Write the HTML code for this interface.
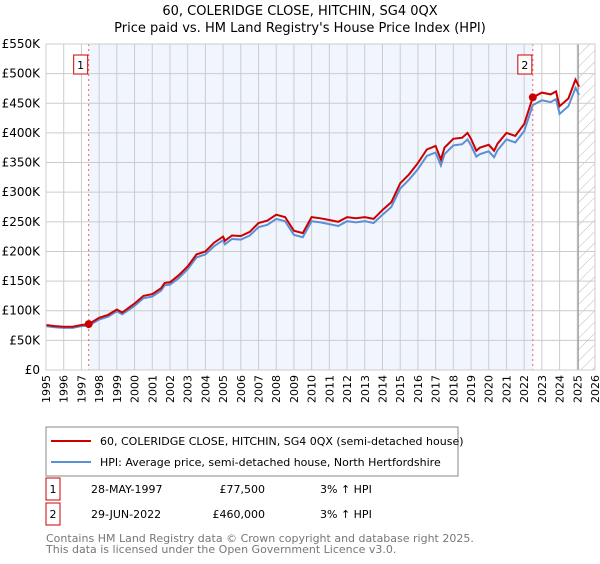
<!DOCTYPE html>
<html><head><meta charset="utf-8"><style>
body{margin:0;background:#fff;font-family:"DejaVu Sans","Liberation Sans",sans-serif;}
svg text{font-family:"DejaVu Sans","Liberation Sans",sans-serif;}
</style></head><body>
<svg id="c" width="600" height="560" xmlns="http://www.w3.org/2000/svg">
<defs><pattern id="h" width="8" height="8" patternUnits="userSpaceOnUse" patternTransform="rotate(45)"><line x1="0" y1="0" x2="0" y2="8" stroke="#bbb" stroke-width="1"/></pattern></defs>
<text x="300" y="15" text-anchor="middle" font-size="13">60, COLERIDGE CLOSE, HITCHIN, SG4 0QX</text>
<text x="300" y="32" text-anchor="middle" font-size="13">Price paid vs. HM Land Registry's House Price Index (HPI)</text>
<g id="plot"></g>
<g>
<rect x="46" y="427" width="412" height="49" fill="#fff" stroke="#888"/>
<line x1="51" y1="441" x2="91" y2="441" stroke="#cc0000" stroke-width="2"/>
<text x="100" y="445" font-size="11">60, COLERIDGE CLOSE, HITCHIN, SG4 0QX (semi-detached house)</text>
<line x1="51" y1="462" x2="91" y2="462" stroke="#5b8fd6" stroke-width="2"/>
<text x="100" y="466" font-size="11">HPI: Average price, semi-detached house, North Hertfordshire</text>
</g>
<g>
<rect x="46" y="478" width="14" height="22" fill="#fff" stroke="#cc0000"/>
<text x="53" y="493" font-size="11" text-anchor="middle">1</text>
<text x="91" y="493" font-size="11">28-MAY-1997</text>
<text x="265" y="493" font-size="11" text-anchor="end">£77,500</text>
<text x="320" y="493" font-size="11">3% ↑ HPI</text>
<rect x="46" y="503" width="14" height="22" fill="#fff" stroke="#cc0000"/>
<text x="53" y="518" font-size="11" text-anchor="middle">2</text>
<text x="91" y="518" font-size="11">29-JUN-2022</text>
<text x="265" y="518" font-size="11" text-anchor="end">£460,000</text>
<text x="320" y="518" font-size="11">3% ↑ HPI</text>
</g>
<text x="46" y="542" font-size="11" fill="#777">Contains HM Land Registry data © Crown copyright and database right 2025.</text>
<text x="46" y="553" font-size="11" fill="#777">This data is licensed under the Open Government Licence v3.0.</text>
</svg>
<script>
const years=[1995,1995.5,1996,1996.5,1997,1997.41,1998,1998.5,1999,1999.3,2000,2000.5,2001,2001.5,2001.7,2002,2002.5,2003,2003.5,2004,2004.5,2005,2005.1,2005.5,2006,2006.5,2007,2007.5,2008,2008.5,2009,2009.5,2010,2010.5,2011,2011.5,2012,2012.5,2013,2013.5,2014,2014.5,2015,2015.5,2016,2016.5,2017,2017.3,2017.5,2018,2018.5,2018.8,2019,2019.3,2019.5,2020,2020.3,2020.5,2021,2021.5,2022,2022.49,2023,2023.5,2023.8,2024,2024.5,2024.9,2025.1];
const priceSeries=[76000,74000,73000,73000,76000,77500,88000,93000,102000,97000,112000,125000,128000,138000,147000,148000,160000,175000,195000,200000,215000,225000,218000,227000,226000,233000,248000,252000,262000,258000,235000,231000,258000,256000,253000,250000,258000,256000,258000,255000,270000,283000,315000,330000,349000,372000,378000,355000,375000,390000,392000,400000,390000,370000,375000,380000,370000,382000,400000,395000,415000,460000,468000,465000,470000,445000,458000,490000,478000];
const hpiSeries=[74000,72000,71000,71000,74000,75000,85000,90000,99000,94000,108000,121000,124000,134000,143000,144000,155000,170000,190000,195000,209000,219000,212000,221000,220000,227000,241000,245000,255000,251000,228000,224000,251000,249000,246000,243000,251000,249000,251000,248000,262000,275000,306000,321000,339000,361000,367000,345000,364000,379000,381000,389000,379000,360000,364000,369000,359000,371000,389000,384000,403000,447000,455000,452000,457000,432000,445000,476000,464000];
const yTicks=[0,50000,100000,150000,200000,250000,300000,350000,400000,450000,500000,550000];
const yTickLabels=["£0","£50K","£100K","£150K","£200K","£250K","£300K","£350K","£400K","£450K","£500K","£550K"];
const xTicks=[1995,1996,1997,1998,1999,2000,2001,2002,2003,2004,2005,2006,2007,2008,2009,2010,2011,2012,2013,2014,2015,2016,2017,2018,2019,2020,2021,2022,2023,2024,2025,2026];
const sales=[{t:1997.41,v:77500,label:"1"},{t:2022.49,v:460000,label:"2"}];
const X0=46,X1=595,Y0=370,Y1=44;
const sx=t=>X0+(t-1995)/(2026-1995)*(X1-X0);
const sy=v=>Y0-v/550000*(Y0-Y1);
const NS="http://www.w3.org/2000/svg";
const g=document.getElementById('plot');
function mk(tag,attrs,parent){const e=document.createElementNS(NS,tag);for(const k in attrs)e.setAttribute(k,attrs[k]);(parent||g).appendChild(e);return e;}
let r=mk('rect',{x:X0,y:Y1,width:X1-X0,height:Y0-Y1,fill:'#fff'});


r=mk('rect',{x:sx(sales[0].t),y:Y1,width:sx(sales[1].t)-sx(sales[0].t),height:Y0-Y1,fill:'#f1f5fe'});


r=mk('rect',{x:sx(2025.05),y:Y1,width:X1-sx(2025.05),height:Y0-Y1,fill:'url(#h)'});


xTicks.forEach(t=>{
  const l=mk('line',{x1:sx(t),x2:sx(t),y1:Y1,y2:Y0,stroke:'#ccc','stroke-width':1});
  
  
  const px=sx(t)+4, py=Y0+5;
  const tx=mk('text',{x:px,y:py,'font-size':11,'text-anchor':'end',transform:'rotate(-90 '+px.toFixed(1)+' '+py+')'});
  tx.textContent=String(t);
  
  
});
yTicks.forEach((v,i)=>{
  const l=mk('line',{x1:X0,x2:X1,y1:sy(v),y2:sy(v),stroke:'#ccc','stroke-width':1});
  
  
  const tx=mk('text',{x:X0-6,y:sy(v)+4,'font-size':12,'text-anchor':'end'});
  tx.textContent=yTickLabels[i];
  
  
});
const l5=mk('line',{x1:sx(2025.05),x2:sx(2025.05),y1:Y1,y2:Y0,stroke:'#888','stroke-width':1});


const pts=a=>a.map((v,i)=>sx(years[i]).toFixed(1)+','+sy(v).toFixed(1)).join(' ');
let p=mk('polyline',{points:pts(hpiSeries),fill:'none',stroke:'#5b8fd6','stroke-width':2});


p=mk('polyline',{points:pts(priceSeries),fill:'none',stroke:'#cc0000','stroke-width':2});


sales.forEach(s=>{
  const l=mk('line',{x1:sx(s.t),x2:sx(s.t),y1:Y1,y2:Y0,stroke:'#f06060','stroke-width':1,'stroke-dasharray':'2,3'});
  
  
  const c=mk('circle',{cx:sx(s.t),cy:sy(s.v),r:4,fill:'#cc0000'});
  
  
  const b=mk('rect',{x:sx(s.t)-15,y:55,width:14,height:19,fill:'#fff',stroke:'#cc0000'});
  
  
  const t=mk('text',{x:sx(s.t)-8,y:69,'font-size':11,'text-anchor':'middle'});
  t.textContent=s.label;
  
  
});
const f=mk('rect',{x:X0,y:Y1,width:X1-X0,height:Y0-Y1,fill:'none',stroke:'#ccc'});


</script>
</body></html>
